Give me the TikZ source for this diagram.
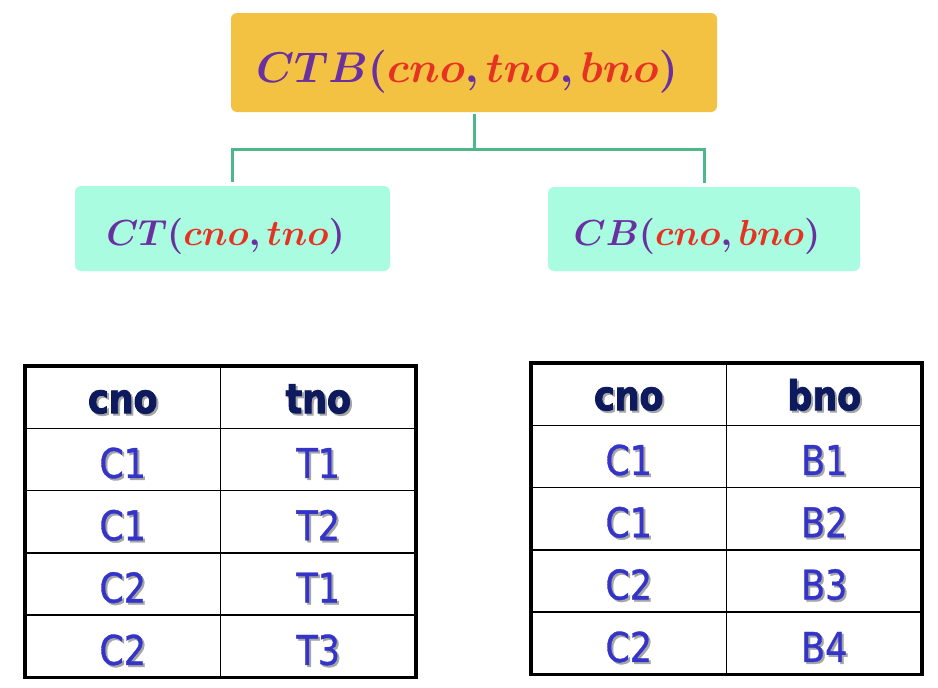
\documentclass[tikz,border=0pt]{standalone}
\usepackage{amsmath, amssymb, bm, graphicx}
\usepackage{fontspec}
\usepackage{xcolor, tikz}
\usetikzlibrary{positioning, calc}
\newfontfamily\tabfont[FakeStretch=0.85, FakeBold=0.8, BoldFeatures={FakeBold=2.2}]{DejaVu Sans}
\definecolor{boxgold}{HTML}{F4C243}
\definecolor{boxaqua}{HTML}{AAFCE1}
\definecolor{linkgreen}{HTML}{4FB68B}
\definecolor{relpurple}{HTML}{6A2FA0}
\definecolor{attred}{HTML}{E63222}
\definecolor{headnavy}{HTML}{0D1B5E}
\definecolor{cellblue}{HTML}{3434C8}
\newcommand{\attr}[1]{{\color{attred}#1}}
\newcommand{\shd}[1]{\makebox[0pt][l]{\kern2pt\raisebox{-2pt}{\color{black!35}#1}}#1}

\begin{document}
\begin{tikzpicture}[x=1pt, y=-1pt,
    relbox/.style={rounded corners=6pt, inner sep=0pt, text depth=0pt, text=relpurple, execute at end node=\hspace{14pt}},
    link/.style={draw=linkgreen, line width=3pt},
    cell/.style={draw, line width=1.5pt, minimum width=195.5, minimum height=62.3, inner sep=0pt, outer sep=0pt, text height=37pt, text depth=0pt, text=cellblue, font=\tabfont\fontsize{41}{41}\selectfont},
    headcell/.style={cell, text height=32pt, text=headnavy, font=\tabfont\bfseries\fontsize{41}{41}\selectfont},
    frame/.style={draw, line width=3.5pt}]
    \useasboundingbox (0,0) rectangle (938,688);

    % relations
    \node[relbox, fill=boxgold, minimum width=486, minimum height=99, text height=39pt] (ctb) at (474,62.5) {\scalebox{4.3}{$\bm{CTB(\attr{cno},\attr{tno},\attr{bno})}$}};
    \node[relbox, fill=boxaqua, minimum width=315, minimum height=85, text height=33pt] (ct) at (232.5,228.5) {\scalebox{3.62}{$\bm{CT(\attr{cno},\attr{tno})}$}};
    \node[relbox, fill=boxaqua, minimum width=312, minimum height=84, text height=33pt] (cb) at (704,229) {\scalebox{3.62}{$\bm{CB(\attr{cno},\attr{bno})}$}};

    \coordinate (split) at (474,149);
    \draw[link] ([yshift=-2pt]ctb.south) -- (split);
    \draw[link] (split) -| ([yshift=4pt]ct.north);
    \draw[link] (split) -| ([yshift=4pt]cb.north);

    % table CT
    \node[headcell] (ct-hc) at (122.75,397.15) {\shd{cno}};
    \node[headcell] (ct-ht) at (318.25,397.15) {\shd{tno}};
    \node[cell] (ct-c1) at (122.75,459.45) {\shd{C1}};
    \node[cell] (ct-t1) at (318.25,459.45) {\shd{T1}};
    \node[cell] (ct-c2) at (122.75,521.75) {\shd{C1}};
    \node[cell] (ct-t2) at (318.25,521.75) {\shd{T2}};
    \node[cell] (ct-c3) at (122.75,584.05) {\shd{C2}};
    \node[cell] (ct-t3) at (318.25,584.05) {\shd{T1}};
    \node[cell] (ct-c4) at (122.75,646.35) {\shd{C2}};
    \node[cell] (ct-t4) at (318.25,646.35) {\shd{T3}};
    \draw[frame] (ct-hc.north west) rectangle (ct-t4.south east);

    % table CB
    \node[headcell] (cb-hc) at (628.75,394.15) {\shd{cno}};
    \node[headcell] (cb-hb) at (824.25,394.15) {\shd{bno}};
    \node[cell] (cb-c1) at (628.75,456.45) {\shd{C1}};
    \node[cell] (cb-b1) at (824.25,456.45) {\shd{B1}};
    \node[cell] (cb-c2) at (628.75,518.75) {\shd{C1}};
    \node[cell] (cb-b2) at (824.25,518.75) {\shd{B2}};
    \node[cell] (cb-c3) at (628.75,581.05) {\shd{C2}};
    \node[cell] (cb-b3) at (824.25,581.05) {\shd{B3}};
    \node[cell] (cb-c4) at (628.75,643.35) {\shd{C2}};
    \node[cell] (cb-b4) at (824.25,643.35) {\shd{B4}};
    \draw[frame] (cb-hc.north west) rectangle (cb-b4.south east);
\end{tikzpicture}
\end{document}
